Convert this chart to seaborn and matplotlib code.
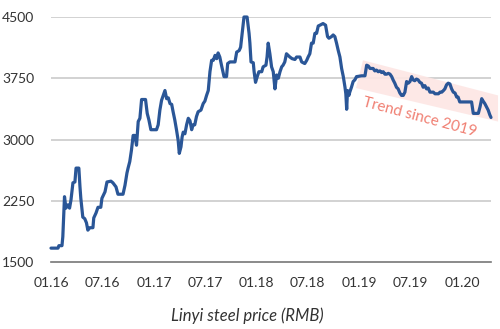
import matplotlib
matplotlib.use("Agg")
import matplotlib.pyplot as plt
import matplotlib.dates as mdates
from matplotlib.patches import Polygon
import pandas as pd
import seaborn as sns

# Linyi steel price, RMB per tonne
dates = [
    "2016-01-01", "2016-01-26", "2016-01-29", "2016-02-09", "2016-02-12", "2016-02-18",
    "2016-02-23", "2016-03-01", "2016-03-07", "2016-03-12", "2016-03-19", "2016-03-26",
    "2016-03-30", "2016-04-09", "2016-04-13", "2016-04-16", "2016-04-23", "2016-04-30",
    "2016-05-06", "2016-05-11", "2016-05-18", "2016-05-29", "2016-06-01", "2016-06-09",
    "2016-06-16", "2016-06-26", "2016-06-30", "2016-07-11", "2016-07-18", "2016-08-01",
    "2016-08-08", "2016-08-19", "2016-08-26", "2016-09-13", "2016-09-20", "2016-09-27",
    "2016-10-01", "2016-10-07", "2016-10-13", "2016-10-19", "2016-10-25", "2016-10-31",
    "2016-11-06", "2016-11-12", "2016-11-18", "2016-12-02", "2016-12-08", "2016-12-14",
    "2016-12-21", "2017-01-10", "2017-01-16", "2017-01-22", "2017-01-28", "2017-02-03",
    "2017-02-09", "2017-02-15", "2017-02-21", "2017-02-27", "2017-03-05", "2017-03-10",
    "2017-03-16", "2017-03-22", "2017-03-28", "2017-04-01", "2017-04-07", "2017-04-11",
    "2017-04-15", "2017-04-21", "2017-04-27", "2017-05-03", "2017-05-09", "2017-05-15",
    "2017-05-20", "2017-05-26", "2017-06-01", "2017-06-07", "2017-06-17", "2017-06-25",
    "2017-07-01", "2017-07-07", "2017-07-13", "2017-07-19", "2017-07-25", "2017-07-31",
    "2017-08-06", "2017-08-12", "2017-08-17", "2017-08-23", "2017-08-29", "2017-09-07",
    "2017-09-16", "2017-09-20", "2017-09-28", "2017-10-16", "2017-10-22", "2017-10-31",
    "2017-11-05", "2017-11-11", "2017-11-17", "2017-11-28", "2017-12-05", "2017-12-08",
    "2017-12-12", "2017-12-20", "2017-12-23", "2017-12-28", "2018-01-03", "2018-01-09",
    "2018-01-19", "2018-01-24", "2018-02-03", "2018-02-07", "2018-02-11", "2018-02-17",
    "2018-02-23", "2018-03-01", "2018-03-07", "2018-03-13", "2018-03-19", "2018-03-25",
    "2018-03-31", "2018-04-05", "2018-04-11", "2018-04-17", "2018-04-29", "2018-05-07",
    "2018-05-17", "2018-05-23", "2018-06-04", "2018-06-10", "2018-06-21", "2018-06-28",
    "2018-07-03", "2018-07-09", "2018-07-15", "2018-07-21", "2018-07-27", "2018-08-02",
    "2018-08-08", "2018-08-14", "2018-08-25", "2018-09-03", "2018-09-10", "2018-09-15",
    "2018-09-24", "2018-09-30", "2018-10-06", "2018-10-12", "2018-10-18", "2018-10-24",
    "2018-10-30", "2018-11-05", "2018-11-11", "2018-11-14", "2018-11-17", "2018-11-20",
    "2018-11-25", "2018-11-28", "2018-12-04", "2018-12-10", "2018-12-16", "2018-12-22",
    "2019-01-09", "2019-01-21", "2019-01-27", "2019-02-02", "2019-02-08", "2019-02-19",
    "2019-02-25", "2019-03-03", "2019-03-09", "2019-03-15", "2019-03-21", "2019-03-27",
    "2019-04-02", "2019-04-08", "2019-04-14", "2019-04-20", "2019-04-26", "2019-05-01",
    "2019-05-07", "2019-05-13", "2019-05-19", "2019-05-25", "2019-05-31", "2019-06-06",
    "2019-06-12", "2019-06-18", "2019-06-24", "2019-06-30", "2019-07-06", "2019-07-11",
    "2019-07-17", "2019-07-23", "2019-07-29", "2019-08-04", "2019-08-10", "2019-08-16",
    "2019-08-22", "2019-08-28", "2019-09-03", "2019-09-09", "2019-09-21", "2019-09-27",
    "2019-10-09", "2019-10-15", "2019-10-21", "2019-10-27", "2019-11-01", "2019-11-07",
    "2019-11-13", "2019-11-19", "2019-11-25", "2019-12-01", "2019-12-07", "2019-12-13",
    "2019-12-18", "2019-12-24", "2020-02-04", "2020-02-10", "2020-02-28", "2020-03-05",
    "2020-03-11", "2020-03-16", "2020-03-22", "2020-03-28", "2020-04-03", "2020-04-09",
    "2020-04-13",
]
prices = [
    1670, 1670, 1700, 1700, 1810, 2300,
    2160, 2200, 2160, 2260, 2470, 2480,
    2650, 2650, 2420, 2280, 2050, 2030,
    1980, 1890, 1920, 1920, 2040, 2100,
    2170, 2170, 2280, 2360, 2480, 2490,
    2470, 2420, 2330, 2330, 2440, 2590,
    2650, 2730, 2870, 3050, 3050, 2930,
    3220, 3260, 3490, 3490, 3320, 3240,
    3120, 3120, 3180, 3360, 3480, 3540,
    3600, 3500, 3510, 3440, 3430, 3340,
    3240, 3120, 2990, 2830, 2910, 3030,
    3090, 3070, 3180, 3260, 3230, 3120,
    3180, 3180, 3280, 3340, 3360, 3440,
    3470, 3540, 3600, 3830, 3970, 3970,
    4030, 3990, 4060, 4010, 3910, 3770,
    3770, 3930, 3950, 3950, 4070, 4090,
    4130, 4320, 4500, 4500, 4300, 4180,
    3950, 3940, 3830, 3700, 3770, 3830,
    3830, 3890, 3910, 4010, 4180, 4050,
    3890, 3830, 3620, 3790, 3750, 3830,
    3890, 3910, 3950, 4050, 4010, 3990,
    3980, 4010, 4010, 3950, 3930, 3970,
    4010, 4050, 4180, 4180, 4300, 4300,
    4390, 4400, 4420, 4400, 4260, 4240,
    4260, 4280, 4260, 4180, 4090, 4010,
    3870, 3770, 3640, 3560, 3370, 3600,
    3540, 3580, 3640, 3710, 3730, 3770,
    3780, 3780, 3910, 3900, 3870, 3870,
    3840, 3850, 3830, 3840, 3820, 3830,
    3800, 3800, 3810, 3800, 3770, 3730,
    3690, 3640, 3620, 3570, 3540, 3540,
    3580, 3710, 3690, 3710, 3770, 3730,
    3720, 3740, 3730, 3700, 3690, 3640,
    3660, 3620, 3630, 3580, 3580, 3560,
    3560, 3580, 3580, 3600, 3620, 3670,
    3690, 3680, 3620, 3580, 3570, 3520,
    3520, 3460, 3460, 3320, 3320, 3400,
    3500, 3470, 3440, 3400, 3360, 3300,
    3270,
]

# Shaded trend channel since 2019 (corners: date, price)
band_dates = ["2019-01-14", "2020-05-08", "2020-05-08", "2018-12-20"]
band_prices = [3970, 3540, 3220, 3630]

y_ticks = [1500, 2250, 3000, 3750, 4500]
x_tick_dates = ["2016-01-01", "2016-07-01", "2017-01-01", "2017-07-01", "2018-01-01",
                "2018-07-01", "2019-01-01", "2019-07-01", "2020-01-01"]
x_tick_labels = ["01.16", "07.16", "01.17", "07.17", "01.18",
                 "07.18", "01.19", "07.19", "01.20"]

trend_label = "Trend since 2019"
trend_label_pos = ("2019-08-04", 3270)
x_title = "Linyi steel price (RMB)"

sns.set_theme(style="white")
plt.rcParams["font.family"] = ["Lato", "DejaVu Sans"]

df = pd.DataFrame({"date": pd.to_datetime(dates), "price": prices})

fig = plt.figure(figsize=(5, 3.29), dpi=100)
ax = fig.add_axes([0.102, 0.2036, 0.88, 0.7447])

# trend channel
band_x = mdates.date2num(pd.to_datetime(band_dates))
band = Polygon(list(zip(band_x, band_prices)), closed=True,
               facecolor="#fde6e4", edgecolor="none", alpha=0.9,
               zorder=1, clip_on=False)
ax.add_patch(band)

sns.lineplot(data=df, x="date", y="price", ax=ax, color="#2a5697",
             linewidth=2.3, zorder=3, clip_on=False)

ax.set_xlim(pd.Timestamp("2016-01-01"), pd.Timestamp("2020-04-13"))
ax.set_ylim(1500, 4500)
ax.set_yticks(y_ticks)
ax.set_yticklabels([str(v) for v in y_ticks])
ax.set_xticks(pd.to_datetime(x_tick_dates))
ax.set_xticklabels(x_tick_labels)

for v in y_ticks[1:]:
    ax.axhline(v, color="#cfcfcf", linewidth=1.3, zorder=0)

for side in ["top", "right", "left"]:
    ax.spines[side].set_visible(False)
ax.spines["bottom"].set_color("#777777")
ax.spines["bottom"].set_linewidth(1.2)
ax.spines["bottom"].set_zorder(2)

ax.tick_params(axis="both", length=0, labelsize=10, colors="#333333")
ax.tick_params(axis="x", pad=11)
ax.tick_params(axis="y", pad=12)

ax.set_xlabel("")
ax.set_ylabel("")

ax.text(pd.Timestamp(trend_label_pos[0]), trend_label_pos[1], trend_label,
        rotation=-15, rotation_mode="anchor", ha="center", va="center",
        color="#f07f72", fontsize=11, zorder=4)

fig.text(0.494, 0.04, x_title, ha="center", va="center",
         fontsize=12, style="italic", color="#333333")

fig.savefig("out.png", dpi=100)
